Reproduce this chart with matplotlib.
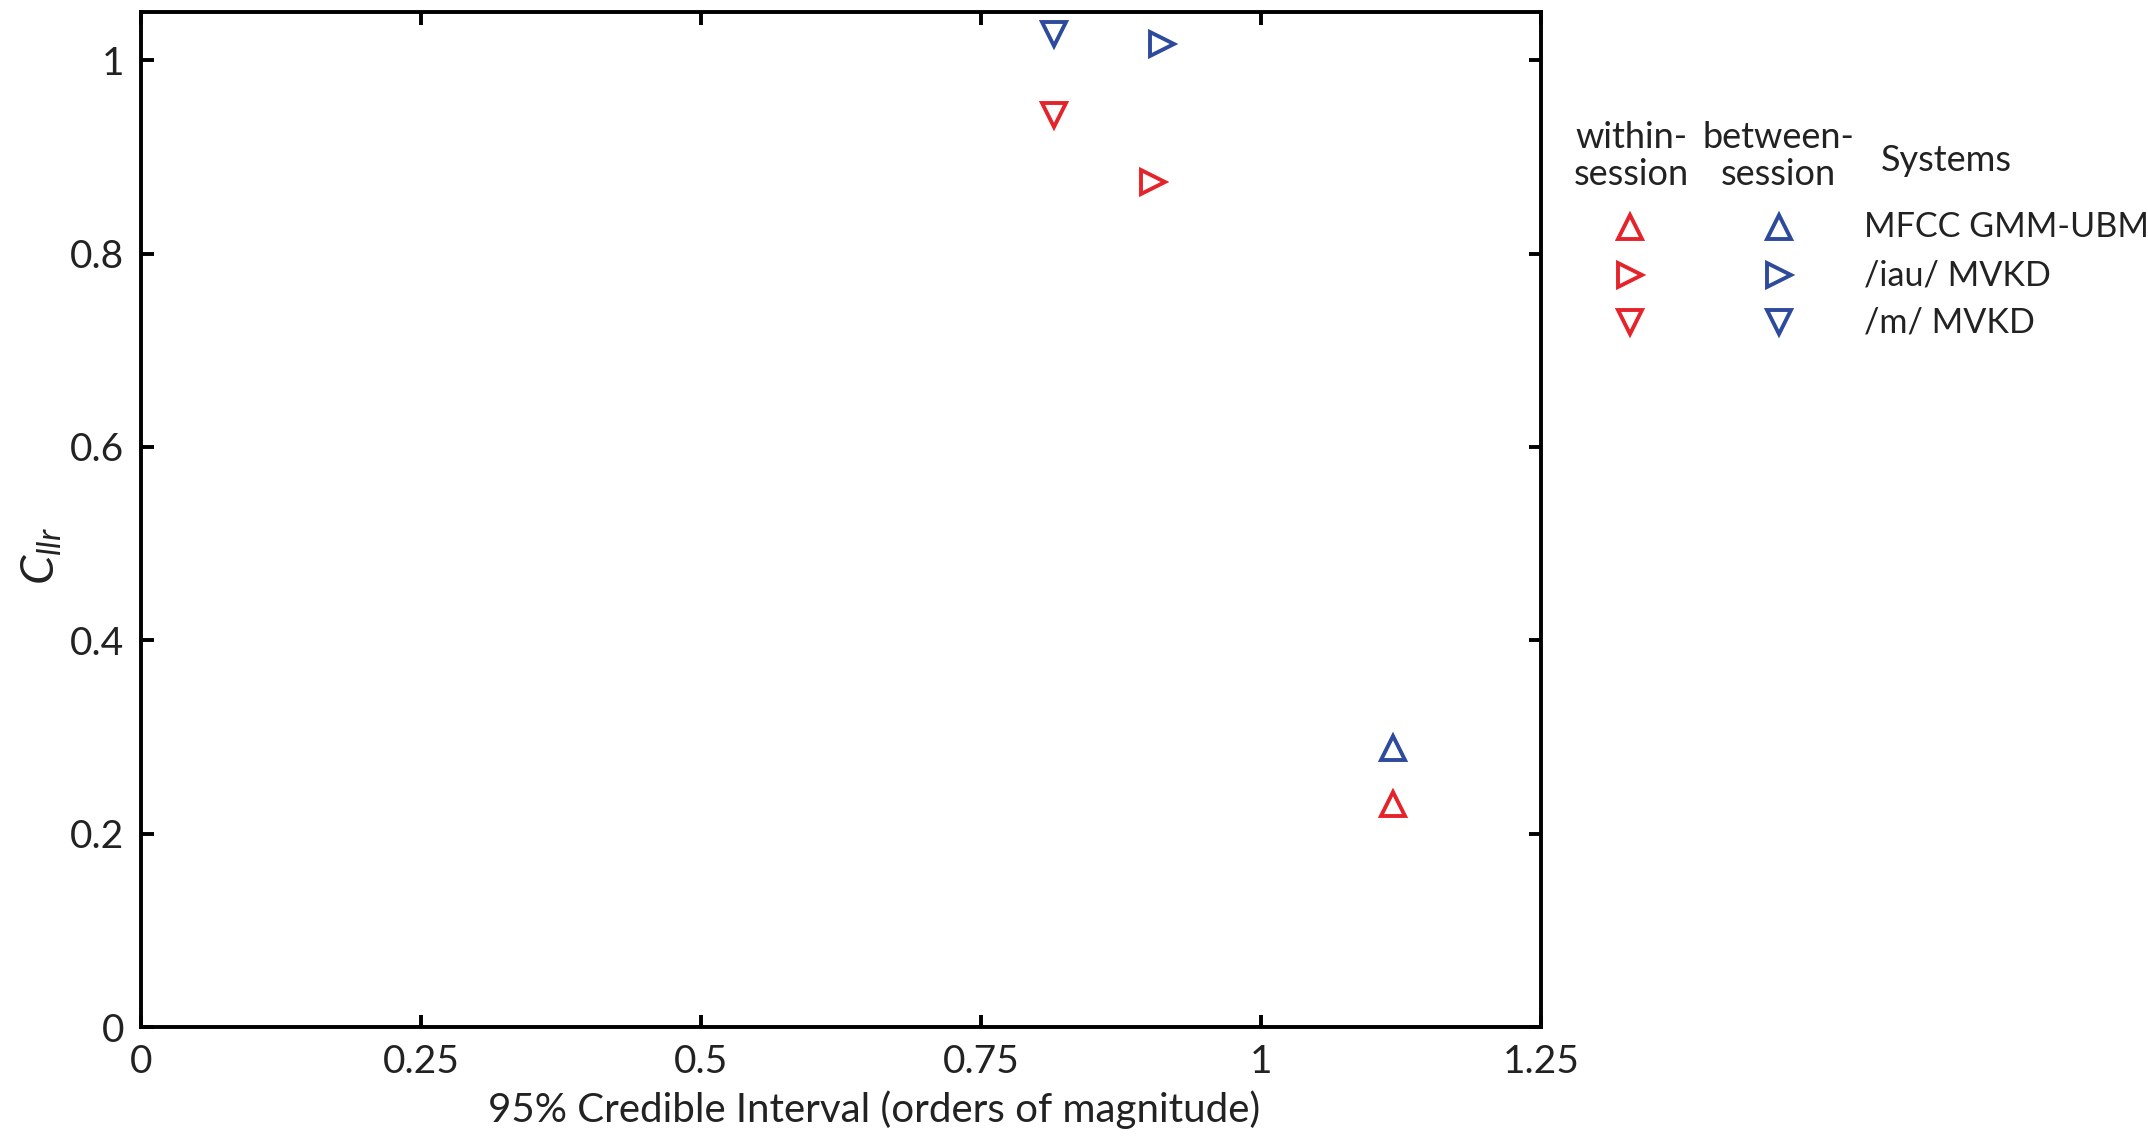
import matplotlib
matplotlib.use('Agg')
import matplotlib.pyplot as plt
import numpy as np

plt.rcParams['font.family'] = ['Lato', 'DejaVu Sans']
plt.rcParams['mathtext.fontset'] = 'custom'
plt.rcParams['mathtext.it'] = 'Lato:italic'
plt.rcParams['mathtext.rm'] = 'Lato'

systems = ['MFCC GMM-UBM', '/iau/ MVKD', '/m/ MVKD']
markers = ['^', '>', 'v']

# 95% credible interval (orders of magnitude) and Cllr
within_ci = np.array([1.118, 0.904, 0.815])
within_cllr = np.array([0.231, 0.874, 0.943])
between_ci = np.array([1.118, 0.912, 0.815])
between_cllr = np.array([0.289, 1.017, 1.027])

red = '#e4232a'
blue = '#2d4a9c'

fig = plt.figure(figsize=(10.74, 5.70), dpi=200)
ax = fig.add_axes([0.0656, 0.0991, 0.6518, 0.8904])

for i in range(len(systems)):
    ax.plot(within_ci[i], within_cllr[i], linestyle='none', marker=markers[i],
            markersize=8.5, markerfacecolor='none', markeredgecolor=red, markeredgewidth=1.4,
            clip_on=False)
    ax.plot(between_ci[i], between_cllr[i], linestyle='none', marker=markers[i],
            markersize=8.5, markerfacecolor='none', markeredgecolor=blue, markeredgewidth=1.4,
            clip_on=False)

ax.set_xlim(0, 1.25)
ax.set_ylim(0, 1.05)
ax.set_xticks([0, 0.25, 0.5, 0.75, 1, 1.25])
ax.set_xticklabels(['0', '0.25', '0.5', '0.75', '1', '1.25'])
ax.set_yticks([0, 0.2, 0.4, 0.6, 0.8, 1])
ax.set_yticklabels(['0', '0.2', '0.4', '0.6', '0.8', '1'])
ax.tick_params(direction='in', length=4.5, width=1.4, top=True, right=True,
               labelsize=14, color='black', labelcolor='#222222', pad=6)
for s in ax.spines.values():
    s.set_linewidth(1.4)

ax.set_xlabel('95% Credible Interval (orders of magnitude)', fontsize=14.5, color='#222222',
              labelpad=4, x=0.5235)
ax.set_ylabel(r'$C_{llr}$', fontsize=17, color='#222222', labelpad=2, y=0.464)

# legend built by hand outside the axes
tc = '#222222'
fs = 13
fig.text(0.7596, 0.863, 'within-\nsession', ha='center', va='center', fontsize=fs,
         color=tc, linespacing=1.15)
fig.text(0.8278, 0.863, 'between-\nsession', ha='center', va='center', fontsize=fs,
         color=tc, linespacing=1.15)
fig.text(0.906, 0.859, 'Systems', ha='center', va='center', fontsize=fs, color=tc)
rows = [0.8005, 0.7584, 0.7175]
for i in range(len(systems)):
    fig.lines.append(plt.Line2D([0.759], [rows[i]], transform=fig.transFigure, linestyle='none',
                                marker=markers[i], markersize=8.5, markerfacecolor='none',
                                markeredgecolor=red, markeredgewidth=1.4))
    fig.lines.append(plt.Line2D([0.828], [rows[i]], transform=fig.transFigure, linestyle='none',
                                marker=markers[i], markersize=8.5, markerfacecolor='none',
                                markeredgecolor=blue, markeredgewidth=1.4))
    fig.text(0.8680, rows[i], systems[i], ha='left', va='center', fontsize=12.3, color=tc)

fig.savefig('out.png', dpi=200)
